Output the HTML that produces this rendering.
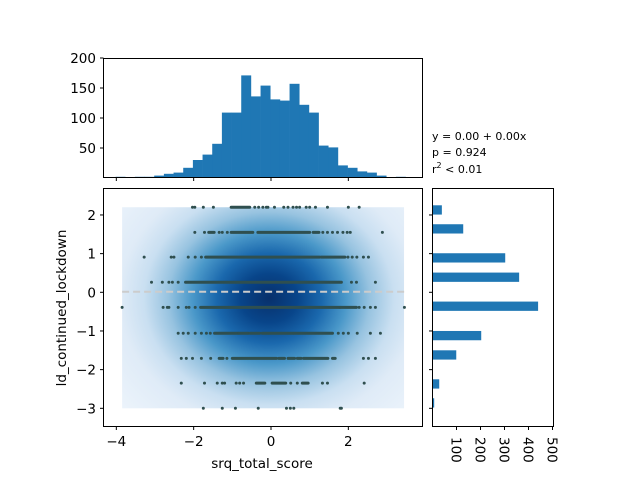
<!DOCTYPE html>
<html><head><meta charset="utf-8"><style>
html,body{margin:0;padding:0;background:#fff}
svg{display:block;font-family:"DejaVu Sans","Liberation Sans",sans-serif}
</style></head><body>
<svg id="chart" width="640" height="480" viewBox="0 0 640 480">
<defs>
<radialGradient id="kde" gradientUnits="userSpaceOnUse" cx="0" cy="0" r="1">
<stop offset="0" stop-color="#08306b"/>
<stop offset="0.12" stop-color="#08458a"/>
<stop offset="0.22" stop-color="#1a68ad"/>
<stop offset="0.32" stop-color="#4a98c9"/>
<stop offset="0.42" stop-color="#97c3e0"/>
<stop offset="0.52" stop-color="#c9dff1"/>
<stop offset="0.62" stop-color="#dfebf7"/>
<stop offset="0.8" stop-color="#ebf3fb"/>
<stop offset="1" stop-color="#f3f8fe"/>
</radialGradient>
</defs>
<g id="top"></g>
<g id="main"></g>
<g id="right"></g>
<text x="432" y="140" font-size="11">y = 0.00 + 0.00x</text>
<text x="432" y="156" font-size="11">p = 0.924</text>
<text x="432" y="173" font-size="11">r<tspan font-size="8" dy="-5">2</tspan><tspan dy="5"> &lt; 0.01</tspan></text>
<text x="262" y="468" font-size="13.5" text-anchor="middle">srq_total_score</text>
<text x="0" y="0" font-size="13.5" text-anchor="middle" transform="translate(66,308) rotate(-90)">ld_continued_lockdown</text>
</svg>
<script>
// ---- data ----
const topBinStart = -4.02;
const topBinWidth = 0.25;
const topCounts = [2,0,2,2,4,7,9,17,30,39,57,109,109,171,136,154,131,129,157,122,109,54,51,21,17,11,9,4,0,2];
const topTicks = [50,100,150,200];
const rightBinCenters = [2.13,1.64,0.89,0.39,-0.36,-1.12,-1.62,-2.37,-2.86];
const rightBinHeight = 0.24;
const rightCounts = [39,128,303,361,440,203,99,28,7];
const rightTicks = [100,200,300,400,500];
const xTicks = [-4,-2,0,2];
const yTicks = [2,1,0,-1,-2,-3];
const rowY = [2.2,1.55,0.91,0.26,-0.39,-1.06,-1.71,-2.35,-3.0];
const rowSingles = [
 [-2.03,-1.97,-1.75,-1.49,-0.42,-0.32,-0.21,-0.12,-0.08,0.09,0.33,0.44,0.57,0.66,0.74,0.91,1.0,1.15,1.46,2.0,2.28],
 [-1.97,-1.72,-1.34,-1.26,-1.13,1.34,1.46,1.59,1.72,1.86,1.97,2.05,2.88],
 [-3.28,-2.58,-2.51,-2.14,-1.96,-1.80,1.99,2.10,2.22,2.39,2.52],
 [-3.09,-2.81,-2.64,-2.55,-2.40,2.08,2.21,2.70],
 [-3.85,-2.79,-2.68,-2.64,-2.40,-2.19,-2.12,-1.96,2.28,2.41,2.57,2.70,3.45],
 [-2.40,-2.27,-2.14,-1.96,-1.80,-1.67,-1.57,1.74,1.87,2.0,2.23,2.57,2.83],
 [-2.32,-2.19,-2.03,-1.80,-1.56,-1.14,2.39,2.52,2.70],
 [-2.32,-1.72,-1.39,-1.26,-1.20,-0.90,-0.81,-0.71,0.51,0.68,1.33,1.46,2.41],
 [-1.75,-1.26,-0.92,-0.33,0.40,0.50,0.59,1.79,1.82]
];
const rowRanges = [
 [[-1.03,-0.55]],
 [[-1.61,-1.47],[-1.03,-0.47],[-0.34,1.0],[1.09,1.24]],
 [[-1.69,1.26],[1.30,1.91]],
 [[-2.21,1.27],[1.30,1.82]],
 [[-1.82,1.78],[1.79,2.21]],
 [[-1.46,-0.85],[-0.83,-0.58],[-0.54,-0.29],[-0.23,0.57],[0.59,1.59]],
 [[-1.34,-1.24],[-1.0,0.14],[0.2,0.35],[0.44,0.61],[0.68,0.78],[0.84,1.47],[1.59,1.66]],
 [[-0.38,-0.16],[0.03,0.38],[0.81,0.96]],
 []
];
const regIntercept = 0.015, regSlope = 0.0;
const regXRange = [-3.85,3.45];
const kdeCenter = [-0.05,-0.15];
const kdeXRange = [-3.85,3.44], kdeYRange = [-3.0,2.2];

// ---- axes ----
const NS = 'http://www.w3.org/2000/svg';
const X = v => 271 + v*38.67;
const Y = v => 292.3 - v*38.67;
const TY = c => 178 - c*0.6;
const RX = c => 432.5 + c*0.24;
function mk(tag, attrs, parent){const e=document.createElementNS(NS,tag);for(const k in attrs)e.setAttribute(k,attrs[k]);parent.appendChild(e);return e;}
const gTop=document.getElementById('top'), gMain=document.getElementById('main'), gRight=document.getElementById('right');

// top histogram
topCounts.forEach((c,i)=>{
  const x0=X(topBinStart+i*topBinWidth), x1=X(topBinStart+(i+1)*topBinWidth);
  if(c<=0) return;
  const r=mk('rect',{x:x0,y:TY(c),width:x1-x0+0.3,height:TY(0)-TY(c),fill:'#1f77b4'},gTop);
  
  
});
const tf=mk('rect',{x:103.5,y:58.5,width:319,height:119,fill:'none',stroke:'#000','stroke-width':1},gTop);


topTicks.forEach(t=>{
  mk('line',{x1:100,x2:103.5,y1:TY(t),y2:TY(t),stroke:'#000'},gTop);
  const tx=mk('text',{x:96,y:TY(t)+5,'font-size':13.5,'text-anchor':'end'},gTop);
  tx.textContent=t;
  
  
});
xTicks.forEach(t=>mk('line',{x1:X(t),x2:X(t),y1:177.5,y2:181,stroke:'#000'},gTop));

// main KDE
const cx=X(kdeCenter[0]), cy=Y(kdeCenter[1]);
document.getElementById('kde').setAttribute('gradientTransform',`translate(${cx},${cy}) scale(240,205)`);
const kr=mk('rect',{x:X(kdeXRange[0]),y:Y(kdeYRange[1]),width:X(kdeXRange[1])-X(kdeXRange[0]),height:Y(kdeYRange[0])-Y(kdeYRange[1]),fill:'url(#kde)'},gMain);


// scatter
rowY.forEach((yv,i)=>{
  rowRanges[i].forEach(r=>{
    const l=mk('line',{x1:X(r[0]),x2:X(r[1]),y1:Y(yv),y2:Y(yv),stroke:'#2f4f4f','stroke-width':3,'stroke-linecap':'round'},gMain);
    
    
  });
  rowSingles[i].forEach(xv=>{
    const c=mk('circle',{cx:X(xv),cy:Y(yv),r:1.5,fill:'#2f4f4f'},gMain);
    
    
  });
});
// regression line
const rl=mk('line',{x1:X(regXRange[0]),x2:X(regXRange[1]),y1:Y(regIntercept+regSlope*regXRange[0]),y2:Y(regIntercept+regSlope*regXRange[1]),stroke:'#cccccc','stroke-width':2,'stroke-dasharray':'7,4'},gMain);


const mf=mk('rect',{x:103.5,y:188.5,width:319,height:238,fill:'none',stroke:'#000'},gMain);


xTicks.forEach(t=>{
  mk('line',{x1:X(t),x2:X(t),y1:426.5,y2:430,stroke:'#000'},gMain);
  const tx=mk('text',{x:X(t),y:446,'font-size':13.5,'text-anchor':'middle'},gMain);
  tx.textContent=t<0?'\u2212'+(-t):t;
  
  
});
yTicks.forEach(t=>{
  mk('line',{x1:100,x2:103.5,y1:Y(t),y2:Y(t),stroke:'#000'},gMain);
  const tx=mk('text',{x:96,y:Y(t)+5,'font-size':13.5,'text-anchor':'end'},gMain);
  tx.textContent=t<0?'\u2212'+(-t):t;
  
  
});

// right histogram
rightCounts.forEach((c,i)=>{
  const yc=rightBinCenters[i];
  const r=mk('rect',{x:RX(0),y:Y(yc+rightBinHeight/2),width:RX(c)-RX(0),height:Y(yc-rightBinHeight/2)-Y(yc+rightBinHeight/2),fill:'#1f77b4'},gRight);
  
  
});
const rf=mk('rect',{x:432.5,y:188.5,width:121,height:238,fill:'none',stroke:'#000'},gRight);


yTicks.forEach(t=>mk('line',{x1:429,x2:432.5,y1:Y(t),y2:Y(t),stroke:'#000'},gRight));
rightTicks.forEach(t=>{
  mk('line',{x1:RX(t),x2:RX(t),y1:426.5,y2:430,stroke:'#000'},gRight);
  const tx=mk('text',{x:0,y:0,'font-size':13.5,transform:`translate(${RX(t)-5},437) rotate(90)`},gRight);
  tx.textContent=t;
  
  
});
</script>
</body></html>
